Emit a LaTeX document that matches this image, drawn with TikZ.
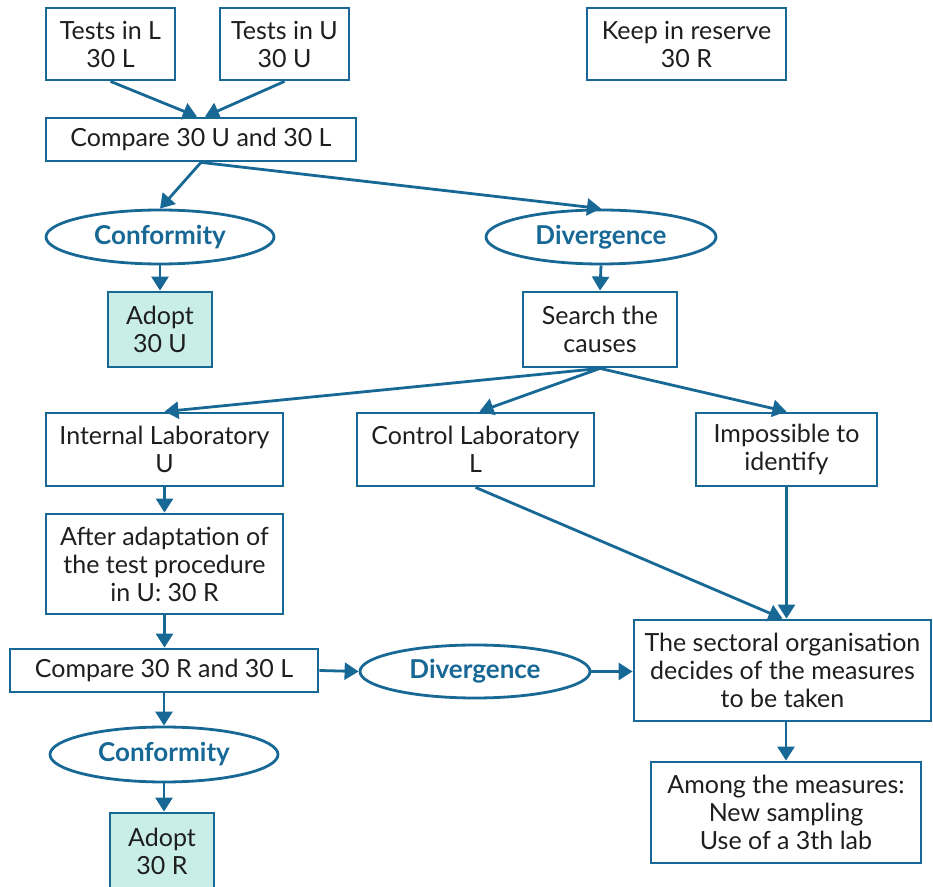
\documentclass[tikz,border=0pt]{standalone}
\usepackage{fontspec}
\setmainfont{Lato}
\usetikzlibrary{arrows.meta,shapes.geometric}
\definecolor{flowblue}{RGB}{24,104,150}
\definecolor{adoptfill}{RGB}{201,238,232}
\definecolor{textgrey}{RGB}{30,30,30}

\begin{document}
\begin{tikzpicture}[x=0.5pt,y=-0.5pt,
  sz/.style 2 args={minimum width=#1*0.5pt,minimum height=#2*0.5pt},
  box/.style={draw=flowblue,line width=1.4pt,align=center,inner sep=0pt,text=textgrey,font=\fontsize{12.5}{14}\selectfont},
  adopt/.style={box,fill=adoptfill},
  oval/.style={ellipse,draw=flowblue,line width=1.4pt,inner sep=0pt,text=flowblue,font=\fontsize{13}{14}\selectfont\bfseries},
  arr/.style={draw=flowblue,line width=1.4pt,-{Triangle[width=8.5pt,length=7pt]}}]
\useasboundingbox (0,0) rectangle (933,887);
% first comparison
\node [box,sz={129}{72}] (testl) at (110.5,44) {Tests in L\\30 L};
\node [box,sz={129}{72}] (testu) at (284.5,44) {Tests in U\\30 U};
\node [box,sz={199}{72}] (reserve) at (686.5,44) {Keep in reserve\\30 R};
\node [box,sz={310}{43}] (cmpul) at (201,139.5) {Compare 30 U and 30 L};
\node [oval,sz={228}{54}] (conf) at (160,237) {Conformity};
\node [oval,sz={230}{54}] (div) at (601,237) {Divergence};
\node [adopt,sz={104}{75}] (adoptu) at (160,329.5) {Adopt\\30 U};
\node [box,sz={154}{75}] (search) at (600,329.5) {Search the\\causes};
% causes
\node [box,sz={237}{73}] (intlab) at (164.5,449.5) {Internal Laboratory\\U};
\node [box,sz={237}{73}] (ctrlab) at (475.5,449.5) {Control Laboratory\\L};
\node [box,sz={181}{73}] (imposs) at (786.5,449.5) {Impossible to\\identify};
% second comparison
\node [box,sz={237}{100}] (adapt) at (164.5,564) {After adaptation of\\the test procedure\\in U: 30 R};
\node [box,sz={308}{43}] (cmprl) at (164,670.5) {Compare 30 R and 30 L};
\node [oval,sz={230}{53}] (div2) at (475,671.5) {Divergence};
\node [box,sz={297}{101}] (sect) at (782.5,670.5) {The sectoral organisation\\decides of the measures\\to be taken};
\node [oval,sz={228}{55}] (conf2) at (164,754.5) {Conformity};
\node [adopt,sz={104}{76}] (adoptr) at (162,851) {Adopt\\30 R};
\node [box,sz={270}{101}] (among) at (786,812.5) {Among the measures:\\New sampling\\Use of a 3th lab};
% connectors
\draw [arr] (testl.south) -- ([xshift=-2pt]cmpul.north);
\draw [arr] (testu.south) -- ([xshift=2pt]cmpul.north);
\draw [arr] (cmpul.south) -- (conf.north);
\draw [arr] (cmpul.south) -- (div.north);
\draw [arr] (conf.south) -- (adoptu.north);
\draw [arr] (div.south) -- (search.north);
\draw [arr] (search.south) -- (intlab.north);
\draw [arr] (search.south) -- ([xshift=2pt]ctrlab.north);
\draw [arr] (search.south) -- (imposs.north);
\draw [arr] (intlab.south) -- (adapt.north);
\draw [arr] (adapt.south) -- (adapt.south |- cmprl.north);
\draw [arr] (cmprl.south) -- (conf2.north);
\draw [arr] (conf2.south) -- (conf2.south |- adoptr.north);
\draw [arr] (cmprl.east) -- (div2.west);
\draw [arr] (div2.east) -- (div2.east -| sect.west);
\draw [arr] (ctrlab.south) -- (sect.north);
\draw [arr] (imposs.south) -- ([xshift=2pt]sect.north);
\draw [arr] (among.north |- sect.south) -- (among.north);
\end{tikzpicture}
\end{document}
